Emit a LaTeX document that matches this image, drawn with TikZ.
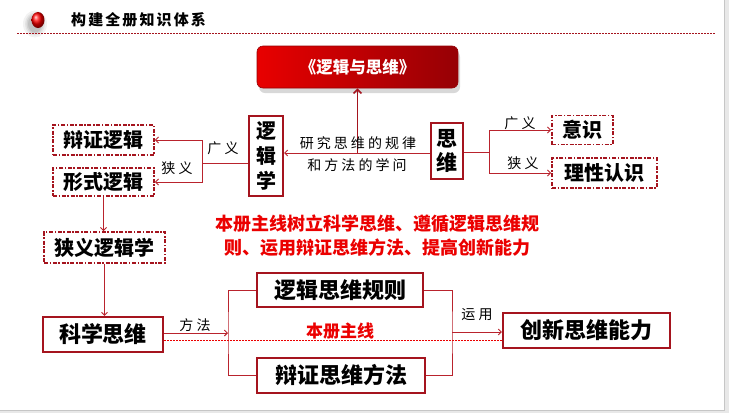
\documentclass[tikz,border=0pt]{standalone}
\usepackage{fontspec}
\setmainfont{Noto Sans CJK SC}
\newfontfamily\lblfont[LetterSpace=22]{Noto Sans CJK SC}
\newfontfamily\ttlfont[LetterSpace=14]{Noto Sans CJK SC}
\usetikzlibrary{arrows.meta,shadows,calc}
\definecolor{boxred}{RGB}{165,20,30}
\definecolor{linered}{RGB}{185,35,45}
\definecolor{hotred}{RGB}{235,0,0}
\definecolor{topl}{RGB}{232,0,0}
\definecolor{topr}{RGB}{150,0,5}
\begin{document}
\begin{tikzpicture}[x=1pt,y=-1pt,
  sbox/.style={draw=boxred, line width=2.2pt, fill=white, inner sep=0pt, font=\bfseries\fontsize{22}{22}\selectfont},
  dbox/.style={draw=boxred, line width=1.8pt, fill=white, dash pattern=on 4pt off 1.6pt on 1.6pt off 1.6pt, inner sep=0pt, font=\bfseries\fontsize{20}{20}\selectfont},
  conn/.style={draw=linered, line width=0.9pt},
  arr/.style={conn, -{Straight Barb[length=3pt,width=6pt]}},
  lbl/.style={font=\lblfont\fontsize{14}{14}\selectfont, inner sep=0pt},
  mainln/.style={draw=hotred, line width=1.6pt, dash pattern=on 1.5pt off 1.5pt}
]
\useasboundingbox (0,0) rectangle (729,413);
% slide background
\fill[gray!18] (0,0) rectangle (729,413);
\fill[white] (0,0) rectangle (724,410);
\draw[gray!45, line width=0.7pt] (724,0) -- (724,410) -- (0,410);
% header
\foreach \r/\o in {12/0.05,10/0.06,8.5/0.07,7/0.08}{
  \fill[black, opacity=\o] (35,24) ellipse ({\r} and {\r+1.5});
}
\shade[ball color=red] (38,20) ellipse (6.5 and 8);
\node[anchor=west, inner sep=0pt, font=\ttlfont\bfseries\fontsize{15}{15}\selectfont] (title) at (71,20) {构建全册知识体系};
\draw[boxred, line width=1pt, dash pattern=on 1.5pt off 1.5pt] (17,33) -- (716,33);
% top box
\node[rounded corners=6pt, minimum width=201pt, minimum height=42pt, inner sep=0pt,
      left color=topl, right color=topr, draw=topr, line width=0.6pt, text=white,
      font=\bfseries\fontsize{16.5}{16.5}\selectfont,
      drop shadow={opacity=0.3, shadow xshift=2pt, shadow yshift=-5pt}] (top) at (357.5,67) {《逻辑与思维》};
% main nodes
\node[sbox, minimum width=34pt, minimum height=80pt, align=center, font=\bfseries\fontsize{20}{25}\selectfont] (luoji) at (266,156) {逻\\辑\\学};
\node[sbox, minimum width=32pt, minimum height=56pt, align=center, font=\bfseries\fontsize{21}{24}\selectfont] (siwei) at (447,151) {思\\维};
\node[dbox, minimum width=101pt, minimum height=30pt] (bz) at (103.5,140) {辩证逻辑};
\node[dbox, minimum width=101pt, minimum height=28pt] (xs) at (103.5,182) {形式逻辑};
\node[dbox, minimum width=121pt, minimum height=31pt] (xy) at (104.5,247.5) {狭义逻辑学};
\node[dbox, minimum width=61pt, minimum height=29pt] (yishi) at (582.5,130) {意识};
\node[dbox, minimum width=105pt, minimum height=30pt] (lx) at (604.5,173) {理性认识};
\node[sbox, minimum width=120pt, minimum height=35pt] (kx) at (103,334.5) {科学思维};
\node[sbox, minimum width=166pt, minimum height=34pt] (gz) at (340,290) {逻辑思维规则};
\node[sbox, minimum width=168pt, minimum height=35pt] (bf) at (341,375.5) {辩证思维方法};
\node[sbox, minimum width=167pt, minimum height=35pt] (cx) at (586.5,330.5) {创新思维能力};
% connectors
\coordinate (j0) at (357.5,153);
\draw[conn, line width=1.6pt, draw=boxred, -{Straight Barb[length=4pt,width=8pt]}] (j0) -- (top.south);
\draw[arr] (siwei.west |- j0) -- (luoji.east |- j0);
\coordinate (jL) at (202,163);
\draw[conn] (luoji.west |- jL) -- (jL);
\draw[arr] (jL) |- (bz.east);
\draw[arr] (jL) |- (xs.east);
\draw[arr] (xs.south) -- (xs.south |- xy.north);
\draw[arr] (xy.south) -- (xy.south |- kx.north);
\coordinate (jR) at (489,152);
\draw[conn] (siwei.east |- jR) -- (jR);
\draw[arr] (jR) |- (yishi.west);
\draw[arr] (jR) |- (lx.west);
\coordinate (jM) at (228,333);
\draw[arr] (kx.east |- jM) -- (jM);
\draw[conn] (gz.west) -| (jM) |- (bf.west);
\coordinate (jN) at (452,332);
\draw[conn] (gz.east) -| (jN) |- (bf.east);
\draw[arr] (jN) -- (jN -| cx.west);
\coordinate (dS) at ($(kx.east)+(0,6)$);
\draw[mainln] (dS) -- (dS -| cx.west);
% labels
\node[lbl] (l1) at (358,143) {研究思维的规律};
\node[lbl] (l2) at (357,165) {和方法的学问};
\node[lbl] (gyL) at (223,148) {广义};
\node[lbl] (xyL) at (177,168) {狭义};
\node[lbl] (gyR) at (520,123) {广义};
\node[lbl] (xyR) at (523,163) {狭义};
\node[lbl] (ff) at (195,325) {方法};
\node[lbl] (yy) at (477,315) {运用};
\node[inner sep=0pt, text=hotred, font=\bfseries\fontsize{17}{17}\selectfont] (zx) at (340,331) {本册主线};
\node[inner sep=0pt, text=hotred, align=center, font=\bfseries\fontsize{18}{24}\selectfont] (theme) at (377,236) {本册主线树立科学思维、遵循逻辑思维规\\则、运用辩证思维方法、提高创新能力};
\end{tikzpicture}
\end{document}
